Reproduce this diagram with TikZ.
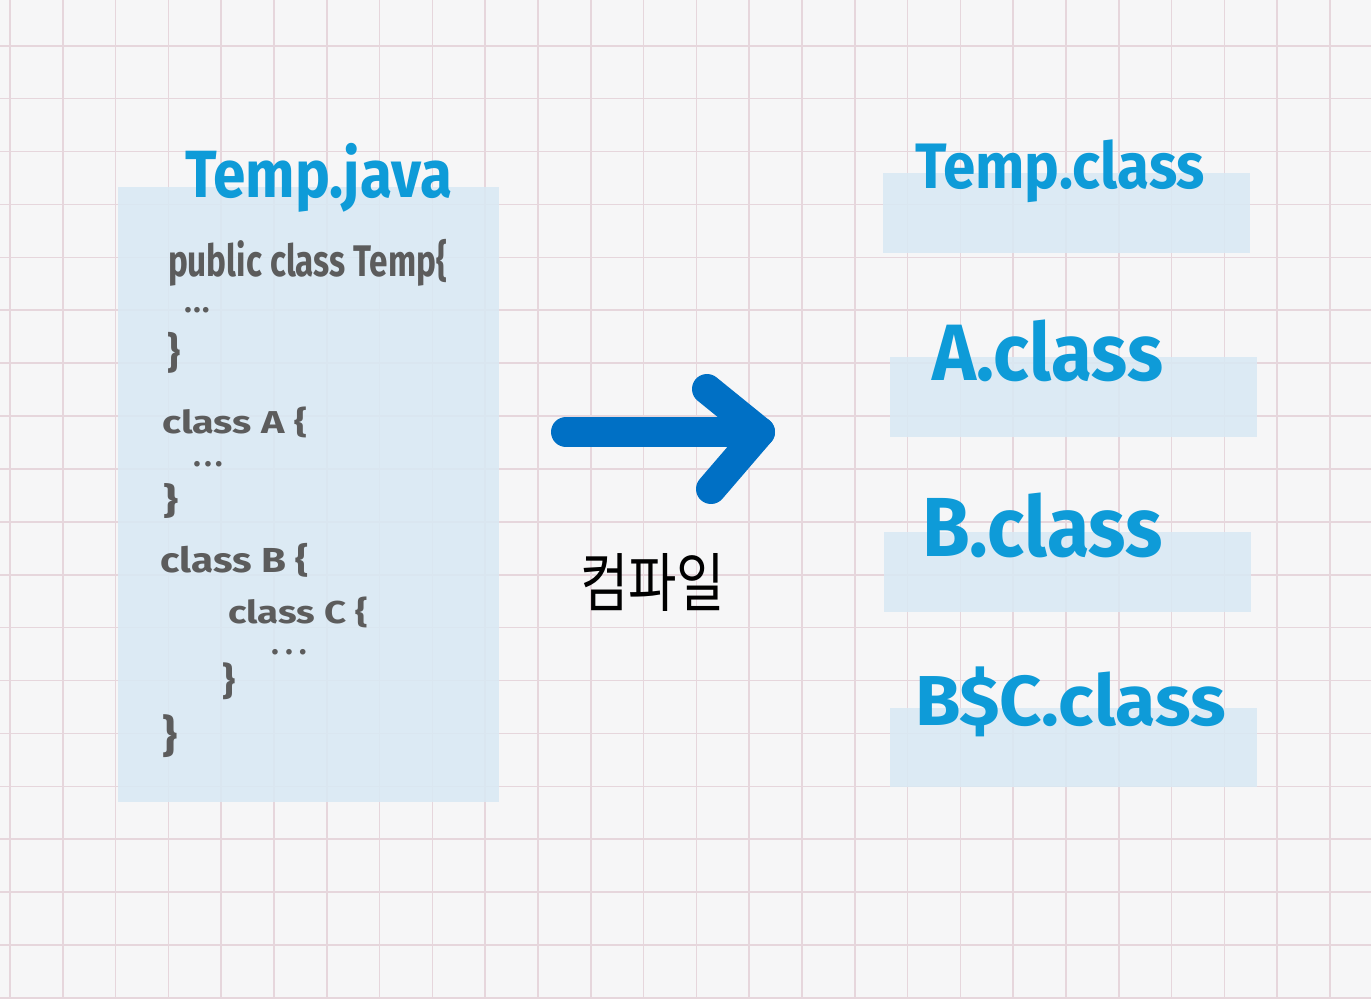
\documentclass[tikz,border=0pt]{standalone}
\usepackage{graphicx}
\usepackage{fontspec}
\setmainfont{Fira Sans}
\newfontfamily\kofont{Noto Sans CJK KR}
\definecolor{paper}{RGB}{246,246,247}
\definecolor{gridline}{RGB}{230,214,220}
\definecolor{boxblue}{RGB}{216,233,244}
\definecolor{titleblue}{RGB}{14,155,216}
\definecolor{codegrey}{RGB}{92,92,92}
\definecolor{arrowblue}{RGB}{0,112,197}
\newcommand{\fitbox}[3]{\resizebox*{#1pt}{#2pt}{#3}}
\newcommand{\threedots}[1]{{\fontsize{31}{31}\bfseries\selectfont .\hspace{#1pt}.\hspace{#1pt}.}}
\begin{document}
\begin{tikzpicture}[x=1pt,y=-1pt,
  title/.style={anchor=north west, inner sep=0pt, outer sep=0pt, text=titleblue, font=\bfseries},
  code/.style={anchor=north west, inner sep=0pt, outer sep=0pt, text=codegrey, font=\bfseries},
  dots/.style={anchor=center, inner sep=0pt, outer sep=0pt, text=codegrey},
  panel/.style={fill=boxblue, fill opacity=0.85, draw=none},
  gridstroke/.style={draw=gridline, line width=1.6pt},
  bigarrow/.style={draw=arrowblue, line width=30pt, line cap=round, line join=round}]
\useasboundingbox (0,0) rectangle (1371,999);
\fill[paper] (0,0) rectangle (1371,999);
% grid
\foreach \k in {0,...,25} {\draw[gridstroke] ({10+52.8*\k},0) -- ({10+52.8*\k},999);}
\foreach \k in {0,...,18} {\draw[gridstroke] (0,{45.7+52.9*\k}) -- (1371,{45.7+52.9*\k});}
% panels
\fill[panel] (118,187) rectangle (499,802);
\fill[panel] (883,173) rectangle (1250,253);
\fill[panel] (890,357) rectangle (1257,437);
\fill[panel] (884,532) rectangle (1251,612);
\fill[panel] (890,708) rectangle (1257,787);
% titles
\node[title] (tjava) at (185,143) {\fitbox{267}{69}{Temp.java}};
\node[title] (tclass) at (915,140) {\fitbox{290}{63}{Temp.class}};
\node[title] (aclass) at (932,320) {\fitbox{231}{62}{A.class}};
\node[title] (bclass) at (922,493) {\fitbox{241}{65}{B.class}};
\node[title] (bcclass) at (915,667) {\fitbox{311}{70}{B\$C.class}};
% code
\node[code] (l1) at (168,239) {\fitbox{279}{47}{public class Temp\{}};
\node[dots] (d1) at (197,310) {\threedots{1.5}};
\node[code] (c1) at (167,332) {\fitbox{13}{41}{\}}};
\node[code] (l2) at (162,407) {\fitbox{145}{31}{class A \{}};
\node[dots] (d2) at (208,464) {\threedots{3.5}};
\node[code] (c2) at (163,483) {\fitbox{15}{35}{\}}};
\node[code] (l3) at (160,543) {\fitbox{149}{34}{class B \{}};
\node[code] (l4) at (228,597) {\fitbox{140}{31}{class C \{}};
\node[dots] (d3) at (289,652) {\threedots{6.5}};
\node[code] (c3) at (222,663) {\fitbox{13}{37}{\}}};
\node[code] (c4) at (162,715) {\fitbox{15}{43}{\}}};
% arrow
\coordinate (atail) at (566,432);
\coordinate (atip) at (760,432);
\coordinate (aup) at (707,389);
\coordinate (alow) at (711,489);
\draw[bigarrow] (atail) -- (atip);
\draw[bigarrow] (aup) -- (atip) -- (alow);
\node[anchor=north west, inner sep=0pt, text=black] (compile) at (580,553) {\fitbox{145}{58}{\kofont 컴파일}};
\end{tikzpicture}
\end{document}
